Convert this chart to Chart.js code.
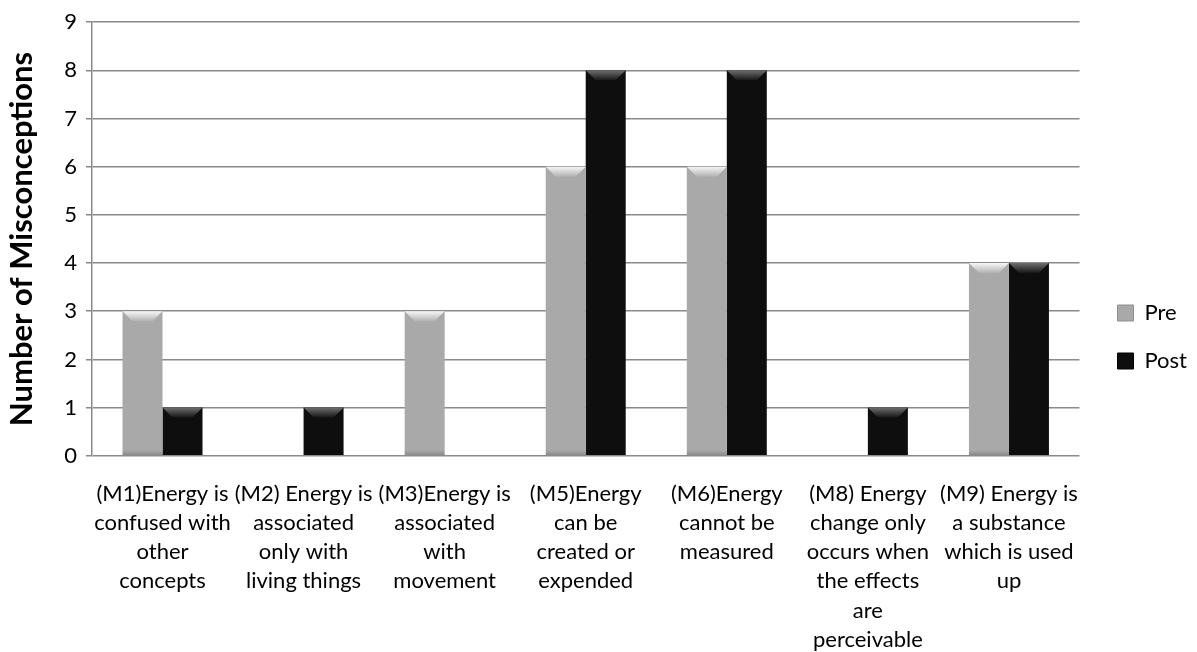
<!DOCTYPE html>
<html>
<head>
<meta charset="utf-8">
<script src="https://cdn.jsdelivr.net/npm/chart.js@4.4.0/dist/chart.umd.min.js"></script>
<style>
  html, body { margin: 0; padding: 0; background: #fff; }
  #wrap { width: 1197px; height: 652px; }
</style>
</head>
<body>
<div id="wrap"><canvas id="myChart"></canvas></div>
<script>
var categories = [
    ['(M1)Energy is', 'confused with', 'other', 'concepts'],
    ['(M2) Energy is', 'associated', 'only with', 'living things'],
    ['(M3)Energy is', 'associated', 'with', 'movement'],
    ['(M5)Energy', 'can be', 'created or', 'expended'],
    ['(M6)Energy', 'cannot be', 'measured'],
    ['(M8) Energy', 'change only', 'occurs when', 'the effects', 'are', 'perceivable'],
    ['(M9) Energy is', 'a substance', 'which is used', 'up']
];
var preValues = [3, 0, 3, 6, 6, 0, 4];
var postValues = [1, 1, 0, 8, 8, 1, 4];
var yTicks = [0, 1, 2, 3, 4, 5, 6, 7, 8, 9];

var FONT = 'Lato, "Open Sans", sans-serif';

// colours for each series: edge, middle, bevel top, bevel bottom
var shades = {
    Pre: { edge: '#8e8e8e', mid: '#aaaaaa', solid: '#a9a9a9', hi: '#f6f6f6', lo: '#b2b2b2' },
    Post: { edge: '#000000', mid: '#0f0f0f', solid: '#0e0e0e', hi: '#6e6e6e', lo: '#161616' }
};

/**
 * horizontal gradient for a bar, darker at both edges
 */
function barFill(context) {
    var bar = context.element;
    var s = shades[context.dataset.label];
    if (!bar || !isFinite(bar.x) || !bar.width) {
        return s.solid;
    }
    var left = bar.x - bar.width / 2;
    var g = context.chart.ctx.createLinearGradient(left, 0, left + bar.width, 0);
    g.addColorStop(0, s.edge);
    g.addColorStop(0.1, s.mid);
    g.addColorStop(0.9, s.mid);
    g.addColorStop(1, s.edge);
    return g;
}

// draws the bevelled top of each bar
var bevelPlugin = {
    id: 'bevel',
    afterDatasetsDraw: function (chart) {
        var ctx = chart.ctx;
        chart.data.datasets.forEach(function (ds, i) {
            var s = shades[ds.label];
            chart.getDatasetMeta(i).data.forEach(function (bar) {
                var h = bar.base - bar.y;
                if (h < 2) return;
                var l = bar.x - bar.width / 2;
                var r = bar.x + bar.width / 2;
                var d = Math.min(10, h / 3);
                ctx.save();
                var g = ctx.createLinearGradient(0, bar.y, 0, bar.y + d);
                g.addColorStop(0, s.hi);
                g.addColorStop(1, s.lo);
                ctx.fillStyle = g;
                ctx.beginPath();
                ctx.moveTo(l, bar.y);
                ctx.lineTo(r, bar.y);
                ctx.lineTo(r - d, bar.y + d);
                ctx.lineTo(l + d, bar.y + d);
                ctx.closePath();
                ctx.fill();
                // faint lower bevel
                var g2 = ctx.createLinearGradient(0, bar.base - 5, 0, bar.base);
                g2.addColorStop(0, 'rgba(0,0,0,0)');
                g2.addColorStop(1, 'rgba(0,0,0,0.18)');
                ctx.fillStyle = g2;
                ctx.fillRect(l, bar.base - 5, bar.width, 5);
                ctx.restore();
            });
        });
    }
};

// nudge the legend a bit right, like the original
var legendShift = {
    id: 'legendShift',
    afterLayout: function (chart) {
        var lg = chart.legend;
        if (!lg) return;
        lg.left += 12;
        lg.right += 12;
        lg.top -= 2;
        lg.bottom -= 2;
    }
};

const ctx = document.getElementById('myChart');
var myChart = new Chart(ctx, {
    type: 'bar',
    data: {
        labels: categories,
        datasets: [
            { label: 'Pre', data: preValues, backgroundColor: barFill, borderWidth: 0 },
            { label: 'Post', data: postValues, backgroundColor: barFill, borderWidth: 0 }
        ]
    },
    options: {
        responsive: true,
        maintainAspectRatio: false,
        animation: false,
        datasets: {
            bar: { categoryPercentage: 0.567, barPercentage: 1.0 }
        },
        layout: { padding: { top: 8, right: 12, left: 3, bottom: -18 } },
        plugins: {
            tooltip: { enabled: false },
            legend: {
                position: 'right',
                align: 'center',
                labels: {
                    font: { family: FONT, size: 22 },
                    color: '#000',
                    boxWidth: 16,
                    boxHeight: 16,
                    padding: 26,
                    generateLabels: function (chart) {
                        return chart.data.datasets.map(function (ds, i) {
                            return {
                                text: ds.label,
                                fillStyle: shades[ds.label].solid,
                                strokeStyle: shades[ds.label].edge,
                                lineWidth: 1,
                                fontColor: '#000',
                                datasetIndex: i
                            };
                        });
                    }
                }
            }
        },
        scales: {
            x: {
                grid: { display: false },
                border: { display: false },
                ticks: {
                    color: '#000',
                    font: { family: FONT, size: 22, lineHeight: 1.32 },
                    maxRotation: 0,
                    autoSkip: false,
                    padding: 16
                }
            },
            y: {
                min: 0,
                max: 9,
                afterBuildTicks: function (axis) {
                    axis.ticks = yTicks.map(function (v) { return { value: v }; });
                },
                grid: { color: '#8a8a8a', lineWidth: 1.5, tickLength: 6 },
                border: { color: '#8a8a8a', width: 1.5 },
                ticks: {
                    color: '#000',
                    font: { family: FONT, size: 22 },
                    padding: 9
                },
                title: {
                    display: true,
                    text: 'Number of Misconceptions',
                    color: '#000',
                    font: { family: FONT, size: 31, weight: 'bold' },
                    padding: { top: 0, bottom: 15 }
                }
            }
        }
    },
    plugins: [bevelPlugin, legendShift]
});
</script>
</body>
</html>
